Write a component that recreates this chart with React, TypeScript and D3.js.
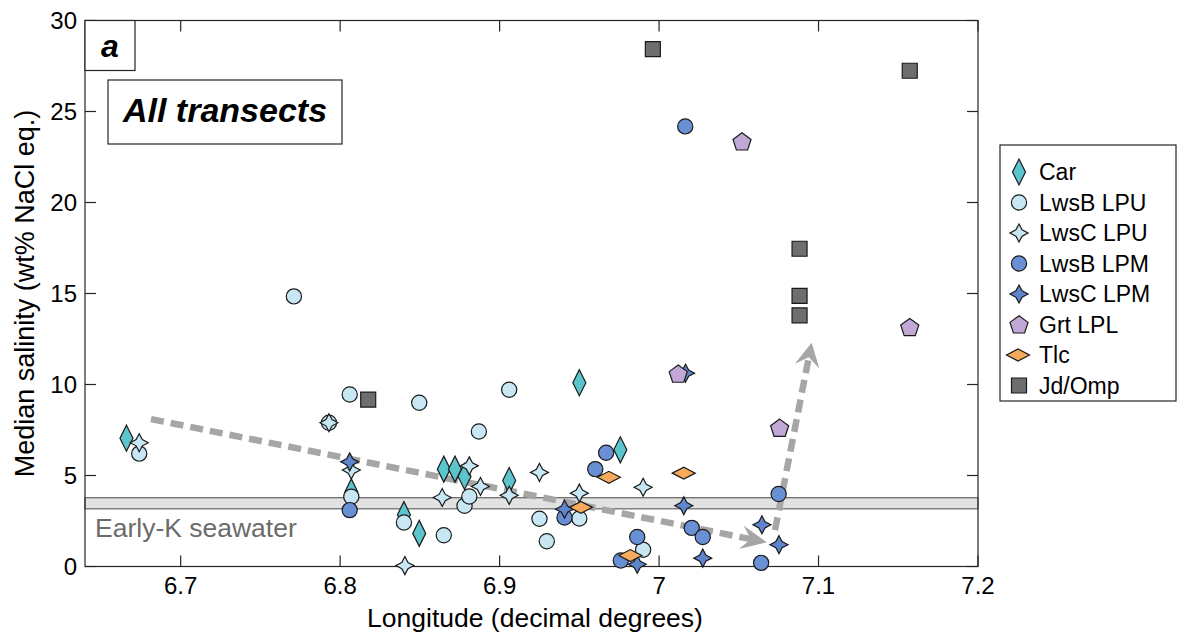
import React from 'react';
import * as d3 from 'd3';

// ---- data (longitude, median salinity) ----
const carData: [number, number][] = [
  [6.666, 7.05], [6.807, 4.1], [6.840, 2.85], [6.8496, 1.82], [6.865, 5.35],
  [6.872, 5.35], [6.878, 4.95], [6.906, 4.72], [6.950, 10.1], [6.9757, 6.41],
];
const lwsBLPUData: [number, number][] = [
  [6.674, 6.2], [6.771, 14.84], [6.793, 7.9], [6.806, 9.45], [6.807, 3.83],
  [6.840, 2.42], [6.8496, 9.0], [6.865, 1.72], [6.878, 3.34], [6.881, 3.85],
  [6.887, 7.42], [6.906, 9.71], [6.925, 2.62], [6.9296, 1.39], [6.950, 2.64], [6.990, 0.92],
];
const lwsCLPUData: [number, number][] = [
  [6.674, 6.8], [6.793, 7.9], [6.807, 5.3], [6.8406, 0.05], [6.864, 3.79],
  [6.881, 5.53], [6.888, 4.40], [6.906, 3.91], [6.925, 5.17], [6.950, 4.03], [6.990, 4.35],
];
const lwsBLPMData: [number, number][] = [
  [6.806, 3.1], [6.9407, 2.69], [6.960, 5.35], [6.9668, 6.25], [6.976, 0.33],
  [6.9863, 1.62], [7.0164, 24.18], [7.0205, 2.12], [7.0274, 1.62], [7.064, 0.2], [7.075, 3.98],
];
const lwsCLPMData: [number, number][] = [
  [6.806, 5.75], [6.9407, 3.15], [6.9863, 0.12], [7.0155, 3.34], [7.0166, 10.62],
  [7.0274, 0.46], [7.0645, 2.29], [7.0752, 1.2],
];
const grtLPLData: [number, number][] = [
  [7.012, 10.59], [7.052, 23.35], [7.0756, 7.62], [7.1572, 13.15],
];
const tlcData: [number, number][] = [
  [6.951, 3.25], [6.9685, 4.9], [6.982, 0.6], [7.0155, 5.13],
];
const jdOmpData: [number, number][] = [
  [6.8176, 9.17], [6.9961, 28.43], [7.0881, 17.46], [7.0881, 14.87], [7.0881, 13.8], [7.1572, 27.24],
];

const xTicks = [6.7, 6.8, 6.9, 7, 7.1, 7.2];
const yTicks = [0, 5, 10, 15, 20, 25, 30];
const seawaterBand = [3.17, 3.78];
const arrow1: [number, number][] = [[6.6814, 8.1], [7.0675, 1.33]];
const arrow2: [number, number][] = [[7.0727, 2.0], [7.0957, 12.3]];

type Shape = 'diamond' | 'circle' | 'star' | 'pentagon' | 'wdiamond' | 'square';
const series: { name: string; shape: Shape; fill: string; data: [number, number][] }[] = [
  { name: 'Car', shape: 'diamond', fill: '#5cc4cc', data: carData },
  { name: 'LwsB LPU', shape: 'circle', fill: '#c8e7f4', data: lwsBLPUData },
  { name: 'LwsC LPU', shape: 'star', fill: '#c8e7f4', data: lwsCLPUData },
  { name: 'LwsB LPM', shape: 'circle', fill: '#6990d4', data: lwsBLPMData },
  { name: 'LwsC LPM', shape: 'star', fill: '#5f85cc', data: lwsCLPMData },
  { name: 'Grt LPL', shape: 'pentagon', fill: '#c2a8d6', data: grtLPLData },
  { name: 'Tlc', shape: 'wdiamond', fill: '#f6aa5c', data: tlcData },
  { name: 'Jd/Omp', shape: 'square', fill: '#6d6e70', data: jdOmpData },
];

const FONT = 'Arial, "Liberation Sans", Arimo, Helvetica, sans-serif';

function shapePath(shape: Shape): string {
  switch (shape) {
    case 'diamond': return 'M0,-13L6.5,0L0,13L-6.5,0Z';
    case 'wdiamond': return 'M-11.5,0L0,-6L11.5,0L0,6Z';
    case 'star': {
      const r = 9, k = 3.1;
      return `M0,${-r}L${k},${-k}L${r},0L${k},${k}L0,${r}L${-k},${k}L${-r},0L${-k},${-k}Z`;
    }
    case 'pentagon': {
      const r = 9.5;
      const pts = d3.range(5).map(i => {
        const a = -Math.PI / 2 + (i * 2 * Math.PI) / 5;
        return [r * Math.cos(a), r * Math.sin(a) + 0.8];
      });
      return 'M' + pts.map(p => p.join(',')).join('L') + 'Z';
    }
    case 'square': return 'M-7.5,-7.5H7.5V7.5H-7.5Z';
    default: return '';
  }
}

function Marker({ shape, fill, cx, cy }: { shape: Shape; fill: string; cx: number; cy: number }) {
  if (shape === 'circle') {
    return <circle cx={cx} cy={cy} r={7.6} fill={fill} stroke="#1a1a1a" strokeWidth={1.2} />;
  }
  return <path d={shapePath(shape)} transform={`translate(${cx},${cy})`} fill={fill} stroke="#1a1a1a" strokeWidth={1.2} strokeLinejoin="miter" />;
}

export default function App() {
  const W = 1180, H = 637;
  const x = d3.scaleLinear().domain([6.64, 7.2]).range([85, 978]);
  const y = d3.scaleLinear().domain([0, 30]).range([566.5, 20.5]);
  const [x0, x1] = x.range();
  const [yb, yt] = y.range();
  const tickLen = 11;
  const axisColor = '#262626';

  const arrow = (a: [number, number][], L: number, Wd: number, key: string) => {
    const sx = x(a[0][0]), sy = y(a[0][1]);
    const tx = x(a[1][0]), ty = y(a[1][1]);
    const dx = tx - sx, dy = ty - sy;
    const len = Math.hypot(dx, dy);
    const ux = dx / len, uy = dy / len;
    const nx = -uy, ny = ux;
    const bx = tx - L * ux, by = ty - L * uy;
    const ix = tx - 0.62 * L * ux, iy = ty - 0.62 * L * uy;
    const head = `M${tx},${ty}L${bx + Wd * nx},${by + Wd * ny}L${ix},${iy}L${bx - Wd * nx},${by - Wd * ny}Z`;
    return (
      <g key={key}>
        <line x1={sx} y1={sy} x2={ix} y2={iy} stroke="#a6a6a6" strokeWidth={6.5} strokeDasharray="13 7" />
        <path d={head} fill="#a6a6a6" />
      </g>
    );
  };

  const legendX = 1000, legendY = 145, legendW = 176, legendH = 256;
  const rowY0 = 172, rowStep = 30.5;

  return (
    <svg width={W} height={H} style={{ position: 'absolute', left: 0, top: 0, background: '#fff' }} fontFamily={FONT}>
      <rect x={0} y={0} width={W} height={H} fill="#fff" />
      {/* seawater band */}
      <rect x={x0} y={y(seawaterBand[1])} width={x1 - x0} height={y(seawaterBand[0]) - y(seawaterBand[1])}
        fill="#e2e2e2" stroke="#6e6e6e" strokeWidth={1.3} />
      <text x={95} y={537} fontSize={26.5} fill="#6b6b6b">Early-K seawater</text>

      {/* frame */}
      <rect x={x0} y={yt} width={x1 - x0} height={yb - yt} fill="none" stroke={axisColor} strokeWidth={1.2} />
      {xTicks.map(t => (
        <g key={'xt' + t}>
          <line x1={x(t)} x2={x(t)} y1={yb} y2={yb - tickLen} stroke={axisColor} strokeWidth={1.2} />
          <line x1={x(t)} x2={x(t)} y1={yt} y2={yt + tickLen} stroke={axisColor} strokeWidth={1.2} />
          <text x={x(t)} y={594} fontSize={24} textAnchor="middle" fill="#000">{String(t)}</text>
        </g>
      ))}
      {yTicks.map(t => (
        <g key={'yt' + t}>
          <line x1={x0} x2={x0 + tickLen} y1={y(t)} y2={y(t)} stroke={axisColor} strokeWidth={1.2} />
          <line x1={x1} x2={x1 - tickLen} y1={y(t)} y2={y(t)} stroke={axisColor} strokeWidth={1.2} />
          <text x={77} y={y(t) + 8.5} fontSize={24} textAnchor="end" fill="#000">{String(t)}</text>
        </g>
      ))}
      <text x={535} y={627} fontSize={26.5} textAnchor="middle" fill="#000">Longitude (decimal degrees)</text>
      <text transform={`translate(34,${(yt + yb) / 2}) rotate(-90)`} fontSize={27} textAnchor="middle" fill="#000">
        Median salinity (wt% NaCl eq.)
      </text>

      {/* arrows */}
      {arrow(arrow1, 26, 12, 'a1')}
      {arrow(arrow2, 24, 12.5, 'a2')}

      {/* points */}
      {series.map(s => (
        <g key={s.name}>
          {s.data.map((d, i) => (
            <Marker key={i} shape={s.shape} fill={s.fill} cx={x(d[0])} cy={y(d[1])} />
          ))}
        </g>
      ))}

      {/* panel label */}
      <rect x={x0} y={yt} width={50} height={50} fill="#fff" stroke={axisColor} strokeWidth={1.2} />
      <text x={x0 + 25} y={yt + 36} fontSize={32} fontWeight="bold" fontStyle="italic" textAnchor="middle">a</text>
      <rect x={108} y={80} width={234} height={64} fill="#fff" stroke={axisColor} strokeWidth={1.2} />
      <text x={225} y={122} fontSize={34} fontWeight="bold" fontStyle="italic" textAnchor="middle">All transects</text>

      {/* legend */}
      <rect x={legendX} y={legendY} width={legendW} height={legendH} fill="#fff" stroke={axisColor} strokeWidth={1.2} />
      {series.map((s, i) => {
        const cy = rowY0 + i * rowStep;
        return (
          <g key={'lg' + s.name}>
            <Marker shape={s.shape} fill={s.fill} cx={s.shape === 'wdiamond' ? 1018 : 1019} cy={cy} />
            <text x={1039} y={cy + 8} fontSize={23} fill="#000">{s.name}</text>
          </g>
        );
      })}
    </svg>
  );
}
